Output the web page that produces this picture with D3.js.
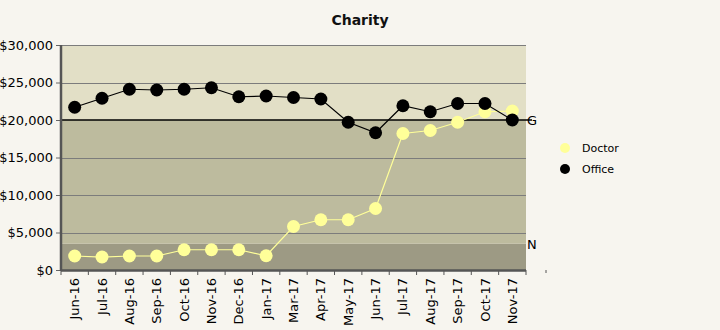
<!DOCTYPE html>
<html><head><meta charset="utf-8">
<script src="https://cdn.jsdelivr.net/npm/d3@7/dist/d3.min.js"></script>
<style>body{margin:0;background:#f7f5ef;}svg{display:block;font-family:"DejaVu Sans",Verdana,sans-serif;}</style>
</head><body><svg id="c" width="720" height="330"></svg>
<script>
const categories = ["Jun-16","Jul-16","Aug-16","Sep-16","Oct-16","Nov-16","Dec-16","Jan-17","Mar-17","Apr-17","May-17","Jun-17","Jul-17","Aug-17","Sep-17","Oct-17","Nov-17"];
const doctor = [1870,1730,1870,1870,2700,2700,2700,1900,5800,6700,6700,8200,18200,18600,19700,21100,21200];
const office = [21700,22900,24100,24000,24100,24300,23100,23200,23000,22800,19700,18300,21900,21100,22200,22200,20000];
const seriesNames = ["Doctor","Office"];
const seriesColors = ["#ffff99","#000000"];
const yTicks = [0,5000,10000,15000,20000,25000,30000];
const bands = [{from:0,to:3500,color:"#9d9a84"},{from:3500,to:20000,color:"#bdbb9e"},{from:20000,to:30000,color:"#e2dfc6"}];
const markers = [{value:20000,label:"G"},{value:3500,label:"N"}];

const svg = d3.select("#c");
const L=61,R=526,T=45,B=270;
const x = d3.scaleBand().domain(categories).range([L,R]);
const y = d3.scaleLinear().domain([0,30000]).range([B,T]);

svg.append("text").attr("x",360).attr("y",25).attr("text-anchor","middle")
  .attr("font-size",14).attr("font-weight","bold").attr("fill","#111").text("Charity");

svg.selectAll("rect.band").data(bands).enter().append("rect")
  .attr("x",L).attr("width",R-L).attr("y",d=>y(d.to)).attr("height",d=>y(d.from)-y(d.to)).attr("fill",d=>d.color);

svg.selectAll("line.grid").data(yTicks.filter(v=>v>0&&v!==20000)).enter().append("line")
  .attr("x1",L).attr("x2",R).attr("y1",d=>Math.round(y(d))+0.5).attr("y2",d=>Math.round(y(d))+0.5).attr("stroke","#7c7c7c").attr("stroke-width",1.2);

markers.forEach(m=>{
  if(m.value===20000){
    svg.append("line").attr("x1",L).attr("x2",R+6).attr("y1",y(m.value)).attr("y2",y(m.value)).attr("stroke","#000").attr("stroke-width",1.5);
  }
  svg.append("text").attr("x",R+1).attr("y",y(m.value)+5).attr("font-size",13).attr("fill","#000").text(m.label);
});

// y axis
const ya = d3.axisLeft(y).tickValues(yTicks).tickSize(5).tickFormat(d=>"$"+d3.format(",")(d));
const gy = svg.append("g").attr("transform",`translate(${L},0)`).call(ya);
gy.select(".domain").remove();
gy.selectAll(".tick line").attr("stroke","#666");
gy.selectAll(".tick text").attr("font-size",13).attr("fill","#000").attr("x",-8).attr("font-family","DejaVu Sans, Verdana, sans-serif");
svg.append("line").attr("x1",L).attr("x2",L).attr("y1",T).attr("y2",B+1).attr("stroke","#555").attr("stroke-width",2.5);

// x axis
const xa = d3.axisBottom(x).tickSize(0);
const gx = svg.append("g").attr("transform",`translate(0,${B})`).call(xa);
gx.select(".domain").remove();
gx.selectAll(".tick text").attr("font-size",13).attr("fill","#000").attr("font-family","DejaVu Sans, Verdana, sans-serif")
  .attr("transform","rotate(-90)").attr("text-anchor","end").attr("x",-8).attr("y",0).attr("dy","0.35em");
const bounds = categories.map(c=>x(c)).concat([R]);
svg.selectAll("line.xt").data(bounds).enter().append("line")
  .attr("x1",d=>d).attr("x2",d=>d).attr("y1",B).attr("y2",B+5).attr("stroke","#555").attr("stroke-width",1);
svg.append("line").attr("x1",L).attr("x2",R).attr("y1",B+0.5).attr("y2",B+0.5).attr("stroke","#555").attr("stroke-width",2.5);
svg.append("line").attr("x1",546).attr("x2",546).attr("y1",270).attr("y2",273).attr("stroke","#555");

// series
const cx = c=>x(c)+x.bandwidth()/2;
[doctor,office].forEach((vals,i)=>{
  const pts = categories.map((c,j)=>[cx(c),y(vals[j])]);
  svg.append("path").attr("d",d3.line()(pts)).attr("fill","none").attr("stroke",seriesColors[i]).attr("stroke-width",1.2);
  svg.selectAll(null).data(pts).enter().append("circle").attr("cx",d=>d[0]).attr("cy",d=>d[1]).attr("r",6.5).attr("fill",seriesColors[i]);
});

// legend
seriesNames.forEach((n,i)=>{
  svg.append("circle").attr("cx",565).attr("cy",148+i*21).attr("r",5).attr("fill",seriesColors[i]);
  svg.append("text").attr("x",582).attr("y",152+i*21).attr("font-size",11).attr("fill","#000").text(n);
});
</script></body></html>
